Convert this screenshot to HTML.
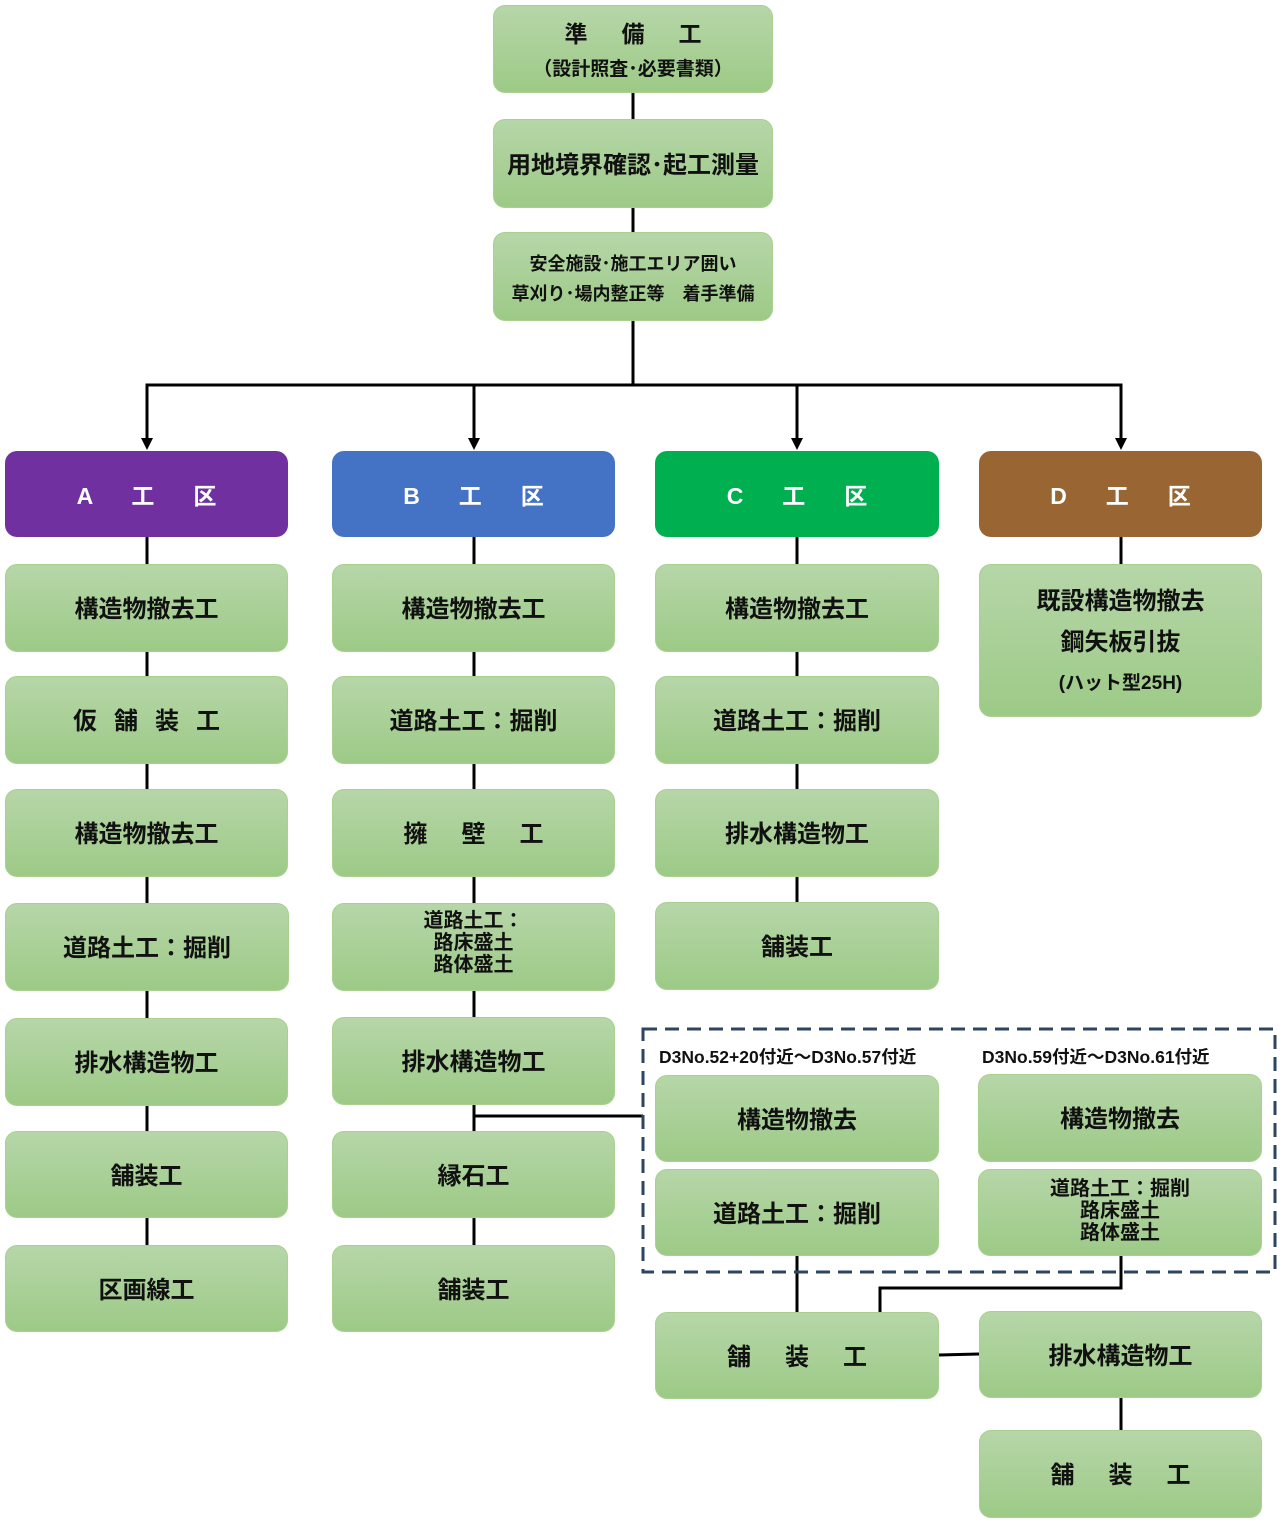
<!DOCTYPE html>
<html><head><meta charset="utf-8"><style>
body{margin:0;width:1280px;height:1522px;background:#fff;position:relative;overflow:hidden;font-family:"Liberation Sans","Noto Sans CJK JP",sans-serif;}
.b{position:absolute;display:flex;flex-direction:column;align-items:center;justify-content:center;text-align:center;box-sizing:border-box;border-radius:12px;background:linear-gradient(#b6d6a8,#9dca87);border:1px solid #a9d08f;color:#111;font-weight:bold;font-size:24px;line-height:1.1;padding-top:5px;}
.h{color:#fff;border:none;font-size:23px;letter-spacing:8px;padding-left:8px;}
.s{font-size:19px;}
.lbl{position:absolute;font-weight:bold;font-size:17.5px;color:#111;}
.w17{letter-spacing:17px;margin-right:-17px;}
.w34{letter-spacing:34px;margin-right:-34px;}
svg{position:absolute;left:0;top:0;}
</style></head><body>
<svg width="1280" height="1522">
<g stroke="#000" stroke-width="3" fill="none">
<line x1="633" y1="93" x2="633" y2="119"/><line x1="633" y1="208" x2="633" y2="232"/>
<line x1="633" y1="321" x2="633" y2="385"/>
<polyline points="147,440 147,385 1121,385 1121,440"/>
<line x1="474" y1="385" x2="474" y2="440"/><line x1="797" y1="385" x2="797" y2="440"/>
<line x1="147" y1="537" x2="147" y2="1245"/>
<line x1="474" y1="537" x2="474" y2="1245"/>
<line x1="797" y1="537" x2="797" y2="903"/>
<line x1="1121" y1="537" x2="1121" y2="564"/>
<line x1="474" y1="1116" x2="643" y2="1116"/>
<line x1="797" y1="1256" x2="797" y2="1312"/>
<polyline points="1121,1256 1121,1288 880,1288 880,1312"/>
<line x1="939" y1="1355" x2="979" y2="1354"/>
<line x1="1121" y1="1398" x2="1121" y2="1430"/>
</g>
<g fill="#000">
<polygon points="141,438 153,438 147,450"/><polygon points="468,438 480,438 474,450"/>
<polygon points="791,438 803,438 797,450"/><polygon points="1115,438 1127,438 1121,450"/>
</g>
<rect x="643" y="1029" width="632" height="243" fill="none" stroke="#2e4460" stroke-width="3" stroke-dasharray="14,8"/>
</svg>
<div class="b" style="left:493px;top:5px;width:280px;height:88px"><div style="font-size:23px;letter-spacing:34px;margin-left:34px">準備工</div><div class="s" style="margin-top:12px">（設計照査･必要書類）</div></div>
<div class="b" style="left:493px;top:119px;width:280px;height:89px">用地境界確認･起工測量</div>
<div class="b" style="left:493px;top:232px;width:280px;height:89px;line-height:30px;font-size:18px">安全施設･施工エリア囲い<br>草刈り･場内整正等　着手準備</div>

<div class="b h" style="left:5px;top:451px;width:283px;height:86px;background:#7030a0">A　工　区</div>
<div class="b h" style="left:332px;top:451px;width:283px;height:86px;background:#4472c4">B　工　区</div>
<div class="b h" style="left:655px;top:451px;width:284px;height:86px;background:#00b050">C　工　区</div>
<div class="b h" style="left:979px;top:451px;width:283px;height:86px;background:#996633">D　工　区</div>

<div class="b" style="left:5px;top:564px;width:283px;height:88px">構造物撤去工</div>
<div class="b" style="left:5px;top:676px;width:283px;height:88px"><span class="w17">仮舗装工</span></div>
<div class="b" style="left:5px;top:789px;width:283px;height:88px">構造物撤去工</div>
<div class="b" style="left:5px;top:903px;width:284px;height:88px">道路土工：掘削</div>
<div class="b" style="left:5px;top:1018px;width:283px;height:88px">排水構造物工</div>
<div class="b" style="left:5px;top:1131px;width:283px;height:87px">舗装工</div>
<div class="b" style="left:5px;top:1245px;width:283px;height:87px">区画線工</div>

<div class="b" style="left:332px;top:564px;width:283px;height:88px">構造物撤去工</div>
<div class="b" style="left:332px;top:676px;width:283px;height:88px">道路土工：掘削</div>
<div class="b" style="left:332px;top:789px;width:283px;height:88px"><span class="w34">擁壁工</span></div>
<div class="b" style="left:332px;top:903px;width:283px;height:88px;font-size:20px;line-height:22px;padding:0 0 8px">道路土工：<br>路床盛土<br>路体盛土</div>
<div class="b" style="left:332px;top:1017px;width:283px;height:88px">排水構造物工</div>
<div class="b" style="left:332px;top:1131px;width:283px;height:87px">縁石工</div>
<div class="b" style="left:332px;top:1245px;width:283px;height:87px">舗装工</div>

<div class="b" style="left:655px;top:564px;width:284px;height:88px">構造物撤去工</div>
<div class="b" style="left:655px;top:676px;width:284px;height:88px">道路土工：掘削</div>
<div class="b" style="left:655px;top:789px;width:284px;height:88px">排水構造物工</div>
<div class="b" style="left:655px;top:902px;width:284px;height:88px">舗装工</div>

<div class="b" style="left:979px;top:564px;width:283px;height:153px;line-height:41px;padding-top:4px"><div>既設構造物撤去</div><div>鋼矢板引抜</div><div class="s">(ハット型25H)</div></div>

<div class="lbl" style="left:659px;top:1044px">D3No.52+20付近～D3No.57付近</div>
<div class="lbl" style="left:982px;top:1044px">D3No.59付近～D3No.61付近</div>
<div class="b" style="left:655px;top:1075px;width:284px;height:87px">構造物撤去</div>
<div class="b" style="left:655px;top:1169px;width:284px;height:87px">道路土工：掘削</div>
<div class="b" style="left:978px;top:1074px;width:284px;height:88px">構造物撤去</div>
<div class="b" style="left:978px;top:1169px;width:284px;height:87px;font-size:20px;line-height:22px;padding:0 0 4px">道路土工：掘削<br>路床盛土<br>路体盛土</div>

<div class="b" style="left:655px;top:1312px;width:284px;height:87px"><span class="w34">舗装工</span></div>
<div class="b" style="left:979px;top:1311px;width:283px;height:87px">排水構造物工</div>
<div class="b" style="left:979px;top:1430px;width:283px;height:88px"><span class="w34">舗装工</span></div>
</body></html>
